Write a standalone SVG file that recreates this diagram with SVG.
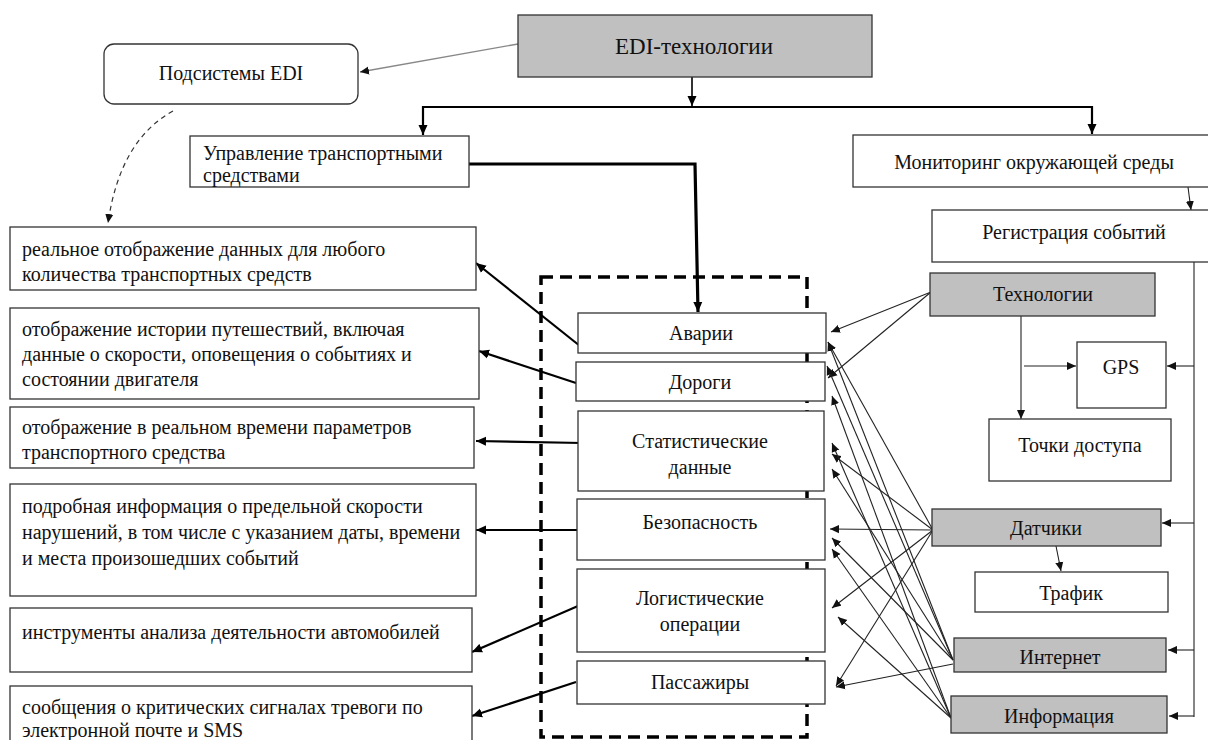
<svg xmlns="http://www.w3.org/2000/svg" width="1208" height="740" viewBox="0 0 1208 740">
<style>
text{font-family:"Liberation Serif","Times New Roman",serif;font-size:20px;fill:#111}
.c{text-anchor:middle}
.b{fill:#fff;stroke:#333;stroke-width:1.3}
.g{fill:#c0c0c0;stroke:#333;stroke-width:1.3}
.t{fill:none;stroke:#222;stroke-width:1.1}
.k{fill:none;stroke:#000;stroke-width:2.2}
.kk{fill:none;stroke:#000;stroke-width:3.2}
</style>
<defs>
<marker id="ah" viewBox="0 0 10 10" refX="10" refY="5" markerWidth="10" markerHeight="10" markerUnits="userSpaceOnUse" orient="auto"><path d="M0,0.5 L10,5 L0,9.5 z" fill="#000"/></marker>
<marker id="as" viewBox="0 0 10 10" refX="10" refY="5" markerWidth="9" markerHeight="9" markerUnits="userSpaceOnUse" orient="auto"><path d="M0,0.5 L10,5 L0,9.5 z" fill="#111"/></marker>
</defs>
<rect width="1208" height="740" fill="#fff"/>

<g id="connectors">
<path d="M518,44 L360,72" fill="none" stroke="#888" stroke-width="1.3" marker-end="url(#as)"/>
<path d="M173,111 Q120,140 108,223" fill="none" stroke="#333" stroke-width="1.2" stroke-dasharray="5,4" marker-end="url(#as)"/>
<path d="M692,77 L692,106" fill="none" stroke="#000" stroke-width="1.6" marker-end="url(#ah)"/>
<path d="M692,107 L423,107 L423,135" class="k" marker-end="url(#ah)"/>
<path d="M692,107 L1092,107 L1092,134" class="k" marker-end="url(#ah)"/>
<path d="M469,164 L695,164 L698,312" class="kk" marker-end="url(#ah)"/>
<path d="M1188,187 L1191,210" class="t" marker-end="url(#as)"/>
<path d="M1194,262 L1194,717" class="t"/>
<path d="M1194,366 L1167,366" class="t" marker-end="url(#as)"/>
<path d="M1194,523 L1162,523" class="t" marker-end="url(#as)"/>
<path d="M1194,650 L1168,650" class="t" marker-end="url(#as)"/>
<path d="M1194,716 L1169,716" class="t" marker-end="url(#as)"/>
<path d="M1021,316 L1021,419" class="t" marker-end="url(#as)"/>
<path d="M1024,366 L1076,366" class="t" marker-end="url(#as)"/>
<path d="M1056,546 L1061,571" class="t" marker-end="url(#as)"/>
<path d="M580,346 L476,263" class="k" marker-end="url(#ah)"/>
<path d="M576,383 L479,351" class="k" marker-end="url(#ah)"/>
<path d="M582,443 L476,441" class="k" marker-end="url(#ah)"/>
<path d="M579,530 L476,530" class="k" marker-end="url(#ah)"/>
<path d="M578,606 L472,652" class="k" marker-end="url(#ah)"/>
<path d="M576,682 L472,716" class="k" marker-end="url(#ah)"/>
<path d="M931,292 L831,332" class="t" marker-end="url(#as)"/>
<path d="M931,292 L828,378" class="t" marker-end="url(#as)"/>
<path d="M933,530 L828,342" class="t" marker-end="url(#as)"/>
<path d="M933,530 L832,454" class="t" marker-end="url(#as)"/>
<path d="M933,530 L830,529" class="t" marker-end="url(#as)"/>
<path d="M933,530 L832,608" class="t" marker-end="url(#as)"/>
<path d="M933,530 L836,686" class="t" marker-end="url(#as)"/>
<path d="M953,660 L828,342" class="t" marker-end="url(#as)"/>
<path d="M953,660 L827,366" class="t" marker-end="url(#as)"/>
<path d="M953,660 L832,469" class="t" marker-end="url(#as)"/>
<path d="M953,660 L832,538" class="t" marker-end="url(#as)"/>
<path d="M953,664 L836,687" class="t" marker-end="url(#as)"/>
<path d="M951,718 L832,396" class="t" marker-end="url(#as)"/>
<path d="M951,718 L832,443" class="t" marker-end="url(#as)"/>
<path d="M951,718 L832,549" class="t" marker-end="url(#as)"/>
<path d="M951,718 L838,617" class="t" marker-end="url(#as)"/>
</g>

<g id="container"><rect x="541" y="277" width="266" height="460" fill="none" stroke="#000" stroke-width="3.5" stroke-dasharray="12,7"/></g>

<g id="edi"><rect class="g" x="518" y="15" width="354" height="62"/><text class="c" x="694" y="54" style="font-size:23px">EDI-технологии</text></g>
<g id="podsistemy"><rect class="b" x="104" y="44" width="254" height="60" rx="10"/><text class="c" x="231" y="80">Подсистемы EDI</text></g>
<g id="upravlenie"><rect class="b" x="190" y="136" width="279" height="51"/><text x="203" y="160">Управление транспортными</text><text x="203" y="182">средствами</text></g>
<g id="monitoring"><rect class="b" x="853" y="135" width="365" height="52"/><text class="c" x="1034" y="169">Мониторинг окружающей среды</text></g>
<g id="registracia"><rect class="b" x="932" y="210" width="285" height="52"/><text class="c" x="1074" y="239">Регистрация событий</text></g>
<g id="tehnologii"><rect class="g" x="930" y="273" width="225" height="43"/><text class="c" x="1043" y="301">Технологии</text></g>
<g id="gps"><rect class="b" x="1077" y="342" width="89" height="66"/><text class="c" x="1121" y="374">GPS</text></g>
<g id="tochki"><rect class="b" x="989" y="419" width="182" height="62"/><text class="c" x="1080" y="452">Точки доступа</text></g>
<g id="datchiki"><rect class="g" x="932" y="509" width="229" height="37"/><text class="c" x="1046" y="535">Датчики</text></g>
<g id="trafik"><rect class="b" x="975" y="572" width="193" height="40"/><text class="c" x="1071" y="600">Трафик</text></g>
<g id="internet"><rect class="g" x="954" y="638" width="212" height="34"/><text class="c" x="1060" y="664">Интернет</text></g>
<g id="informacia"><rect class="g" x="951" y="696" width="216" height="37"/><text class="c" x="1059" y="723">Информация</text></g>

<g id="avarii"><rect class="b" x="578" y="313" width="248" height="40"/><text class="c" x="701" y="340">Аварии</text></g>
<g id="dorogi"><rect class="b" x="576" y="362" width="249" height="39"/><text class="c" x="700" y="389">Дороги</text></g>
<g id="statistika"><rect class="b" x="578" y="411" width="246" height="80"/><text class="c" x="700" y="448">Статистические</text><text class="c" x="700" y="474">данные</text></g>
<g id="bezopasnost"><rect class="b" x="577" y="499" width="248" height="61"/><text class="c" x="700" y="529">Безопасность</text></g>
<g id="logistika"><rect class="b" x="577" y="569" width="248" height="83"/><text class="c" x="700" y="605">Логистические</text><text class="c" x="700" y="631">операции</text></g>
<g id="passazhiry"><rect class="b" x="577" y="661" width="248" height="43"/><text class="c" x="700" y="689">Пассажиры</text></g>

<g id="l1"><rect class="b" x="10" y="227" width="466" height="63"/><text x="22" y="256">реальное отображение данных для любого</text><text x="22" y="281">количества транспортных средств</text></g>
<g id="l2"><rect class="b" x="10" y="308" width="469" height="91"/><text x="22" y="336">отображение истории путешествий, включая</text><text x="22" y="361">данные о скорости, оповещения о событиях и</text><text x="22" y="386">состоянии двигателя</text></g>
<g id="l3"><rect class="b" x="10" y="407" width="464" height="61"/><text x="22" y="434">отображение в реальном времени параметров</text><text x="22" y="459">транспортного средства</text></g>
<g id="l4"><rect class="b" x="10" y="484" width="466" height="112"/><text x="22" y="513">подробная информация о предельной скорости</text><text x="22" y="539">нарушений, в том числе с указанием даты, времени</text><text x="22" y="565">и места произошедших событий</text></g>
<g id="l5"><rect class="b" x="10" y="608" width="462" height="64"/><text x="22" y="639">инструменты анализа деятельности автомобилей</text></g>
<g id="l6"><rect class="b" x="10" y="686" width="462" height="60"/><text x="22" y="714">сообщения о критических сигналах тревоги по</text><text x="22" y="737">электронной почте и SMS</text></g>
</svg>
